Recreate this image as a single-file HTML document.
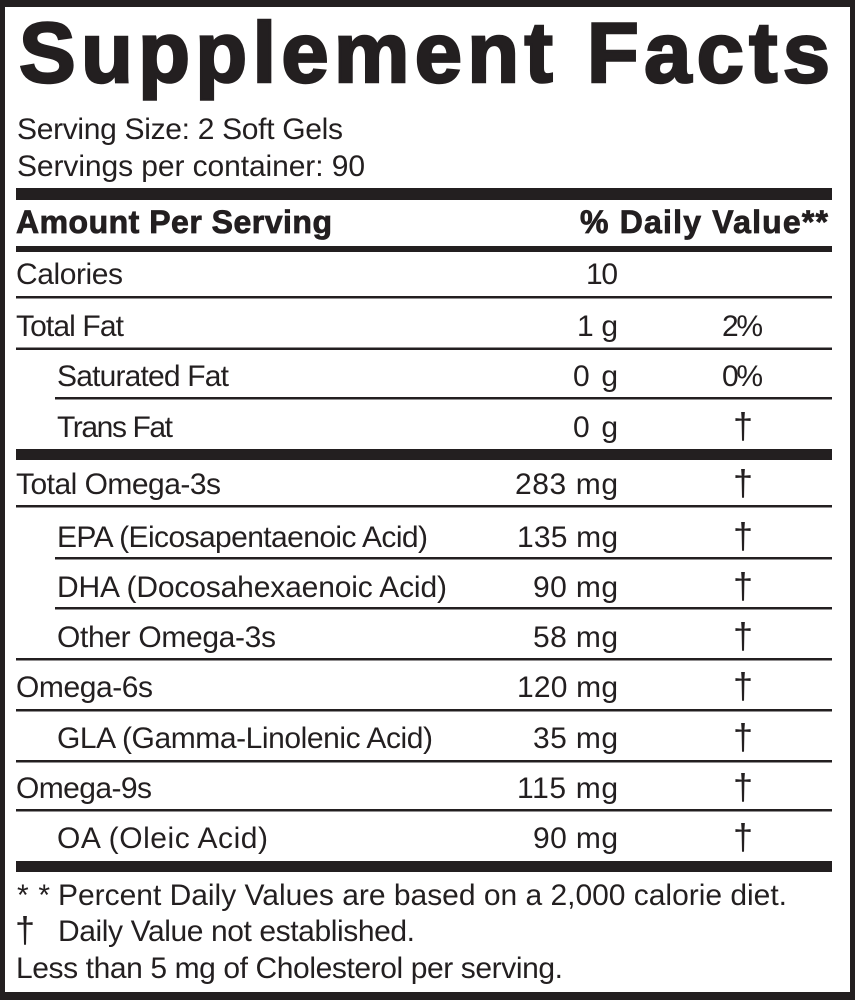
<!DOCTYPE html>
<html>
<head>
<meta charset="utf-8">
<style>
  html,body{margin:0;padding:0;background:#fff;}
  svg{display:block;}
  text{font-family:"Liberation Sans", Arial, sans-serif;fill:#231f20;}
  .b{font-size:30px;}
  .d{font-size:36px;}
</style>
</head>
<body>
<svg width="855" height="1000" viewBox="0 0 855 1000" xmlns="http://www.w3.org/2000/svg">
  <!-- frame -->
  <rect x="0" y="0" width="855" height="1000" fill="#231f20"/>
  <rect x="5" y="7" width="845" height="985" fill="#ffffff"/>

  <!-- title -->
  <text x="19" y="82" font-size="85" font-weight="bold" stroke="#231f20" stroke-width="2.5" textLength="811" lengthAdjust="spacing">Supplement Facts</text>

  <text class="b" x="17" y="139" textLength="326" lengthAdjust="spacing">Serving Size: 2 Soft Gels</text>
  <text class="b" x="17" y="176" textLength="348" lengthAdjust="spacing">Servings per container: 90</text>

  <!-- bars & lines -->
  <g fill="#231f20">
    <rect x="16" y="188" width="816" height="12"/>
    <rect x="16" y="246" width="816" height="6"/>
    <rect x="16" y="296" width="816" height="2.5"/>
    <rect x="16" y="347.5" width="816" height="2.5"/>
    <rect x="55" y="397" width="777" height="2.5"/>
    <rect x="16" y="449" width="816" height="11"/>
    <rect x="16" y="505" width="816" height="2.5"/>
    <rect x="55" y="557" width="777" height="2.5"/>
    <rect x="55" y="607" width="777" height="2.5"/>
    <rect x="16" y="658" width="816" height="2.5"/>
    <rect x="16" y="709" width="816" height="2.5"/>
    <rect x="16" y="760" width="816" height="2.5"/>
    <rect x="16" y="809" width="816" height="2.5"/>
    <rect x="16" y="861" width="816" height="11"/>
  </g>

  <!-- header row -->
  <text x="16" y="233" font-size="32" font-weight="bold" stroke="#231f20" stroke-width="0.8" textLength="316" lengthAdjust="spacing">Amount Per Serving</text>
  <text x="580" y="233" font-size="32" font-weight="bold" stroke="#231f20" stroke-width="0.8" textLength="248" lengthAdjust="spacing">% Daily Value**</text>

  <!-- rows -->
  <text class="b" x="16" y="284" textLength="107" lengthAdjust="spacing">Calories</text>
  <text class="b" x="586" y="284" textLength="32" lengthAdjust="spacing">10</text>

  <text class="b" x="16" y="336" textLength="108" lengthAdjust="spacing">Total Fat</text>
  <text class="b" x="577" y="336" textLength="41" lengthAdjust="spacing">1 g</text>
  <text class="b" x="722" y="336" textLength="41" lengthAdjust="spacing">2%</text>

  <text class="b" x="57" y="386" textLength="172" lengthAdjust="spacing">Saturated Fat</text>
  <text class="b" x="573" y="386" textLength="45" lengthAdjust="spacing">0 g</text>
  <text class="b" x="722" y="386" textLength="41" lengthAdjust="spacing">0%</text>

  <text class="b" x="57" y="437" textLength="116" lengthAdjust="spacing">Trans Fat</text>
  <text class="b" x="573" y="437" textLength="45" lengthAdjust="spacing">0 g</text>
  <text class="d" x="743" y="438" text-anchor="middle">†</text>

  <text class="b" x="16" y="494" textLength="205" lengthAdjust="spacing">Total Omega-3s</text>
  <text class="b" x="515" y="494" textLength="103" lengthAdjust="spacing">283 mg</text>
  <text class="d" x="743" y="495" text-anchor="middle">†</text>

  <text class="b" x="57" y="547" textLength="371" lengthAdjust="spacing">EPA (Eicosapentaenoic Acid)</text>
  <text class="b" x="517" y="547" textLength="101" lengthAdjust="spacing">135 mg</text>
  <text class="d" x="743" y="548" text-anchor="middle">†</text>

  <text class="b" x="57" y="597" textLength="390" lengthAdjust="spacing">DHA (Docosahexaenoic Acid)</text>
  <text class="b" x="533" y="597" textLength="85" lengthAdjust="spacing">90 mg</text>
  <text class="d" x="743" y="598" text-anchor="middle">†</text>

  <text class="b" x="57" y="647" textLength="219" lengthAdjust="spacing">Other Omega-3s</text>
  <text class="b" x="533" y="647" textLength="85" lengthAdjust="spacing">58 mg</text>
  <text class="d" x="743" y="648" text-anchor="middle">†</text>

  <text class="b" x="16" y="697" textLength="137" lengthAdjust="spacing">Omega-6s</text>
  <text class="b" x="517" y="697" textLength="101" lengthAdjust="spacing">120 mg</text>
  <text class="d" x="743" y="698" text-anchor="middle">†</text>

  <text class="b" x="57" y="748" textLength="376" lengthAdjust="spacing">GLA (Gamma-Linolenic Acid)</text>
  <text class="b" x="533" y="748" textLength="85" lengthAdjust="spacing">35 mg</text>
  <text class="d" x="743" y="749" text-anchor="middle">†</text>

  <text class="b" x="16" y="798" textLength="136" lengthAdjust="spacing">Omega-9s</text>
  <text class="b" x="517" y="798" textLength="101" lengthAdjust="spacing">115 mg</text>
  <text class="d" x="743" y="799" text-anchor="middle">†</text>

  <text class="b" x="57" y="848" textLength="211" lengthAdjust="spacing">OA (Oleic Acid)</text>
  <text class="b" x="533" y="848" textLength="85" lengthAdjust="spacing">90 mg</text>
  <text class="d" x="743" y="849" text-anchor="middle">†</text>

  <!-- footer -->
  <text class="b" x="17" y="905" textLength="33" lengthAdjust="spacing">**</text>
  <text class="b" x="58" y="905" textLength="729" lengthAdjust="spacing">Percent Daily Values are based on a 2,000 calorie diet.</text>
  <text class="d" x="25" y="942" text-anchor="middle">†</text>
  <text class="b" x="58" y="941" textLength="357" lengthAdjust="spacing">Daily Value not established.</text>
  <text class="b" x="16" y="978" textLength="547" lengthAdjust="spacing">Less than 5 mg of Cholesterol per serving.</text>
</svg>
</body>
</html>
